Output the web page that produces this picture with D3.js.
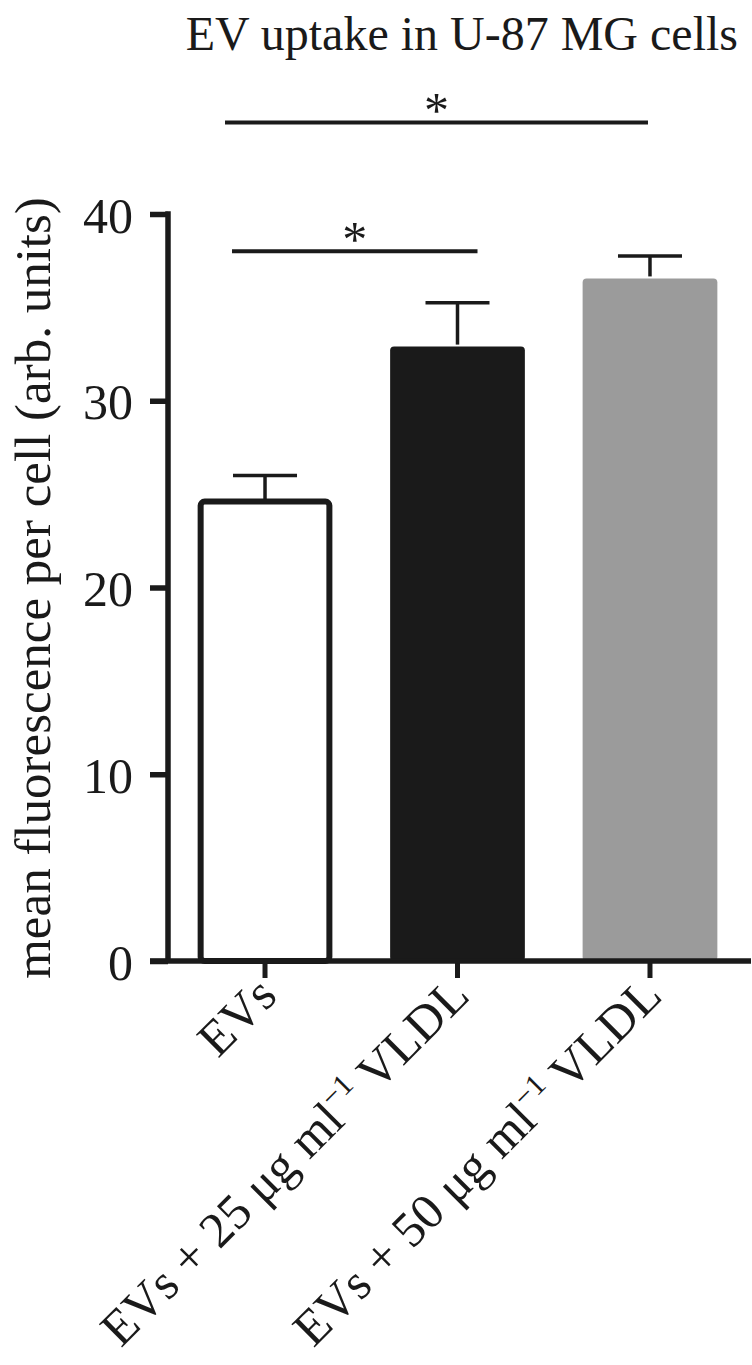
<!DOCTYPE html>
<meta charset="utf-8">
<style>
body { margin: 0; background: #fff; }
text { font-family: "Liberation Serif", "Times New Roman", serif; fill: #1a1a1a; }
</style>
<body>
<script src="https://cdn.jsdelivr.net/npm/d3@7/dist/d3.min.js"></script>
<script>

// data
var groups = ["EVs", "EVs25", "EVs50"];
var labelMain = ["EVs", "EVs + 25 μg ml", "EVs + 50 μg ml"];
var labelSup = ["", "−1", "−1"];
var labelTail = ["", " VLDL", " VLDL"];
var means = [24.6, 32.9, 36.55];
var errTop = [26.0, 35.25, 37.75];
var fills = ["#ffffff", "#1a1a1a", "#9b9b9b"];
var yTicks = [0, 10, 20, 30, 40];
// significance brackets: from group, to group, height (data units)
var sigFrom = ["EVs", "EVs"];
var sigTo = ["EVs25", "EVs50"];
var sigLevel = [38.0, 44.9];

var W = 752, H = 1365;

var svg = d3.select("body").append("svg")
  .attr("width", W)
  .attr("height", H);

var y = d3.scaleLinear().domain([0, 40]).range([961, 214]);
var x = d3.scaleBand().domain(groups).range([168, 747])
  .paddingInner(0.3).paddingOuter(0.154);
var cx = function(d) { return x(d) + x.bandwidth() / 2; };

// title
svg.append("text")
  .attr("x", 738).attr("y", 50)
  .attr("text-anchor", "end")
  .style("font-size", "48px")
  .text("EV uptake in U-87 MG cells");

// bars
svg.selectAll("rect.bar")
  .data(groups)
  .enter().append("rect")
  .attr("class", "bar")
  .attr("x", function(d, i) { return i == 0 ? x(d) + 3 : x(d); })
  .attr("width", function(d, i) { return i == 0 ? x.bandwidth() - 6 : x.bandwidth(); })
  .attr("y", function(d, i) { return y(means[i]); })
  .attr("height", function(d, i) { return y(0) - y(means[i]); })
  .attr("rx", 4)
  .style("fill", function(d, i) { return fills[i]; })
  .style("stroke", function(d, i) { return i == 0 ? "#1a1a1a" : "none"; })
  .style("stroke-width", 6);

// error bars (upper only)
var eb = svg.selectAll("g.err")
  .data(groups)
  .enter().append("g").attr("class", "err");
eb.append("line")
  .attr("x1", cx).attr("x2", cx)
  .attr("y1", function(d, i) { return y(means[i]) - 2; })
  .attr("y2", function(d, i) { return y(errTop[i]); })
  .style("stroke", "#1a1a1a").style("stroke-width", 3.5);
eb.append("line")
  .attr("x1", function(d) { return cx(d) - 32; })
  .attr("x2", function(d) { return cx(d) + 32; })
  .attr("y1", function(d, i) { return y(errTop[i]); })
  .attr("y2", function(d, i) { return y(errTop[i]); })
  .style("stroke", "#1a1a1a").style("stroke-width", 3.5);

// y axis
var yAxis = svg.append("g")
  .attr("transform", "translate(168,0)")
  .call(d3.axisLeft(y).tickValues(yTicks).tickSize(18).tickPadding(17).tickSizeOuter(0));
yAxis.select(".domain").remove();
yAxis.selectAll(".tick line").style("stroke", "#1a1a1a").style("stroke-width", 5.5);
yAxis.selectAll(".tick text")
  .style("font-size", "50px")
  .style("font-family", "Liberation Serif")
  .attr("fill", "#1a1a1a")
  .attr("dy", "0.36em");
svg.append("line")
  .attr("x1", 168).attr("x2", 168)
  .attr("y1", y(40) - 2.75).attr("y2", y(0))
  .style("stroke", "#1a1a1a").style("stroke-width", 5.5);

// x axis
var xAxis = svg.append("g")
  .attr("transform", "translate(0," + y(0) + ")")
  .call(d3.axisBottom(x).tickSize(17).tickFormat(""));
xAxis.select(".domain").remove();
xAxis.selectAll(".tick line").style("stroke", "#1a1a1a").style("stroke-width", 5);
svg.append("line")
  .attr("x1", 150).attr("x2", 751)
  .attr("y1", y(0)).attr("y2", y(0))
  .style("stroke", "#1a1a1a").style("stroke-width", 5.5);

// rotated category labels
svg.selectAll("text.xlab")
  .data(groups)
  .enter().append("text")
  .attr("class", "xlab")
  .attr("text-anchor", "end")
  .style("font-size", "50px")
  .attr("transform", function(d) {
    return "translate(" + (cx(d) + 14) + ",998) rotate(-45)";
  })
  .each(function(d, i) {
    var t = d3.select(this);
    t.append("tspan").text(labelMain[i]);
    if (labelSup[i]) {
      t.append("tspan").attr("dy", -20).style("font-size", "30px").style("fill", "#1a1a1a").text(labelSup[i]);
      t.append("tspan").attr("dy", 20).text(labelTail[i]);
    }
  });

// y axis title
svg.append("text")
  .attr("transform", "translate(50,588) rotate(-90)")
  .attr("text-anchor", "middle")
  .style("font-size", "51px")
  .text("mean fluorescence per cell (arb. units)");

// significance lines
var sigLeft = [-33, -40], sigRight = [20, -2];
sigFrom.forEach(function(f, i) {
  var xa = cx(f) + sigLeft[i], xb = cx(sigTo[i]) + sigRight[i];
  svg.append("line")
    .attr("x1", xa).attr("x2", xb)
    .attr("y1", y(sigLevel[i])).attr("y2", y(sigLevel[i]))
    .style("stroke", "#1a1a1a").style("stroke-width", 4);
  svg.append("text")
    .attr("x", (xa + xb) / 2)
    .attr("y", y(sigLevel[i]) + 5)
    .attr("text-anchor", "middle")
    .style("font-size", "50px")
    .text("*");
});

</script>
